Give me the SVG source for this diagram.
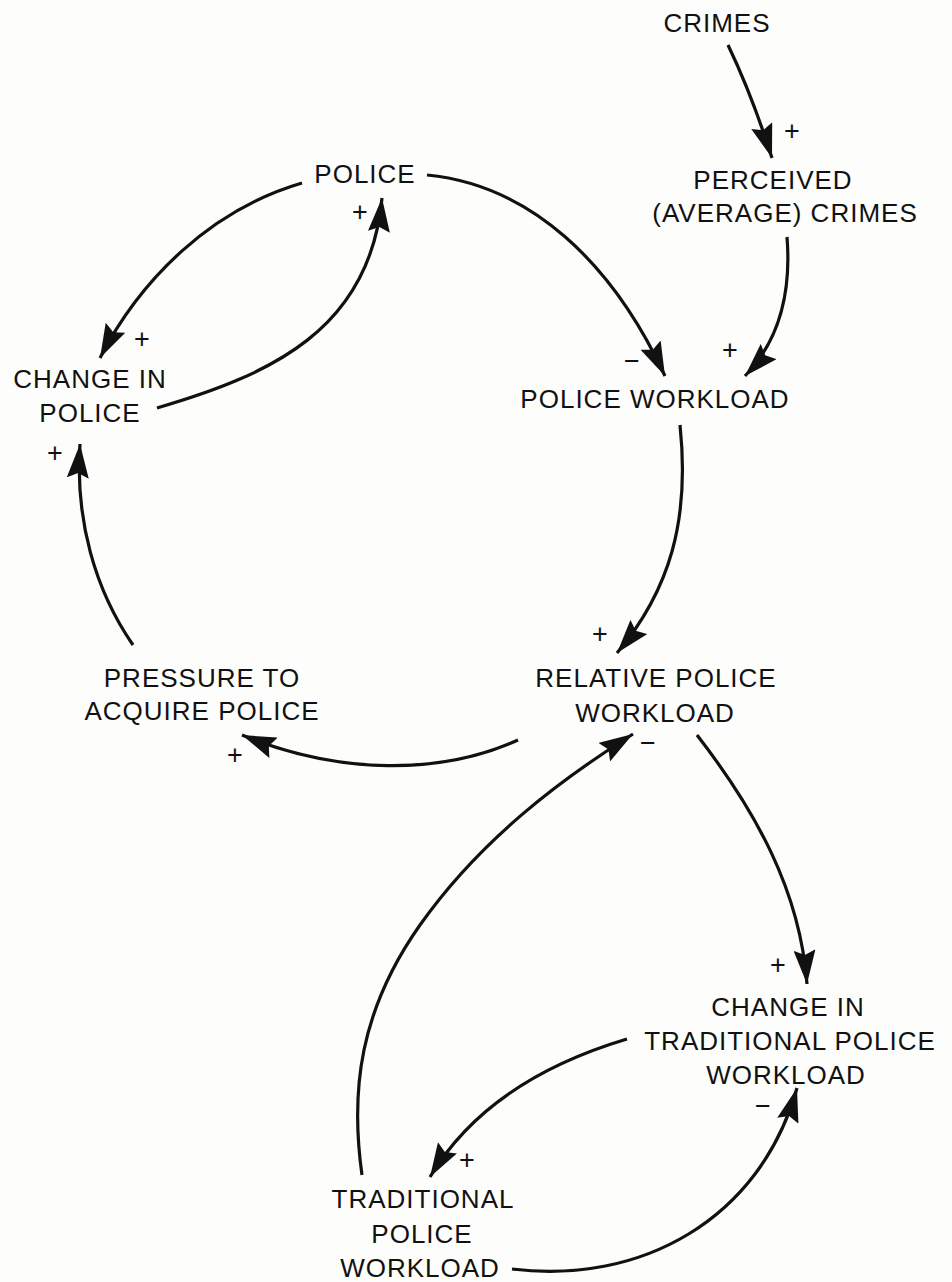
<svg xmlns="http://www.w3.org/2000/svg" width="952" height="1282" viewBox="0 0 952 1282">
  <style>
    .lbl { font-family: "Liberation Sans", Arial, sans-serif; font-size: 26px; fill: #111; text-anchor: middle; letter-spacing: 1px; }
    .sign { font-family: "Liberation Sans", Arial, sans-serif; font-size: 27px; fill: #111; text-anchor: middle; }
    .link { fill: none; stroke: #111; stroke-width: 3.2; marker-end: url(#head); }
  </style>
  <defs>
    <marker id="head" markerUnits="userSpaceOnUse" markerWidth="36" markerHeight="22" refX="34" refY="11" orient="auto">
      <path d="M0,0 L34,11 L0,22 L5,11 z" fill="#111"/>
    </marker>
  </defs>
  <rect width="952" height="1282" fill="#fdfdfb"/>

  <g id="connectors">
    <path class="link" d="M728,45 Q752,95 772,158"/>
    <path class="link" d="M787,237 C792,300 775,345 745,376"/>
    <path class="link" d="M427,175 C530,185 612,262 665,376"/>
    <path class="link" d="M302,183 C210,210 140,280 100,358"/>
    <path class="link" d="M157,408 C270,375 370,330 382,198"/>
    <path class="link" d="M133,645 C95,590 75,520 80,444"/>
    <path class="link" d="M518,740 C440,775 340,775 242,735"/>
    <path class="link" d="M680,425 C690,520 670,590 617,653"/>
    <path class="link" d="M697,735 C755,810 800,890 807,984"/>
    <path class="link" d="M627,1039 C540,1065 470,1110 430,1177"/>
    <path class="link" d="M512,1269 C640,1285 760,1220 797,1088"/>
    <path class="link" d="M362,1175 C350,1090 360,1010 420,925 S560,780 633,734"/>
  </g>

  <g id="signs">
    <text class="sign" x="792" y="140">+</text>
    <text class="sign" x="730" y="359">+</text>
    <text class="sign" x="632" y="370">−</text>
    <text class="sign" x="360" y="221">+</text>
    <text class="sign" x="142" y="348">+</text>
    <text class="sign" x="55" y="462">+</text>
    <text class="sign" x="235" y="764">+</text>
    <text class="sign" x="600" y="643">+</text>
    <text class="sign" x="648" y="752">−</text>
    <text class="sign" x="778" y="974">+</text>
    <text class="sign" x="763" y="1115">−</text>
    <text class="sign" x="467" y="1169">+</text>
  </g>

  <g id="crimes"><text class="lbl" x="717" y="32">CRIMES</text></g>
  <g id="perceived-crimes">
    <text class="lbl" x="773" y="189">PERCEIVED</text>
    <text class="lbl" x="785" y="222">(AVERAGE) CRIMES</text>
  </g>
  <g id="police"><text class="lbl" x="365" y="183">POLICE</text></g>
  <g id="police-workload"><text class="lbl" x="655" y="408">POLICE WORKLOAD</text></g>
  <g id="change-in-police">
    <text class="lbl" x="90" y="388">CHANGE IN</text>
    <text class="lbl" x="90" y="422">POLICE</text>
  </g>
  <g id="pressure-to-acquire-police">
    <text class="lbl" x="202" y="687">PRESSURE TO</text>
    <text class="lbl" x="202" y="720">ACQUIRE POLICE</text>
  </g>
  <g id="relative-police-workload">
    <text class="lbl" x="656" y="687">RELATIVE POLICE</text>
    <text class="lbl" x="655" y="722">WORKLOAD</text>
  </g>
  <g id="change-in-traditional-police-workload">
    <text class="lbl" x="788" y="1016">CHANGE IN</text>
    <text class="lbl" x="790" y="1050">TRADITIONAL POLICE</text>
    <text class="lbl" x="786" y="1084">WORKLOAD</text>
  </g>
  <g id="traditional-police-workload">
    <text class="lbl" x="423" y="1208">TRADITIONAL</text>
    <text class="lbl" x="422" y="1243">POLICE</text>
    <text class="lbl" x="420" y="1277">WORKLOAD</text>
  </g>
</svg>
